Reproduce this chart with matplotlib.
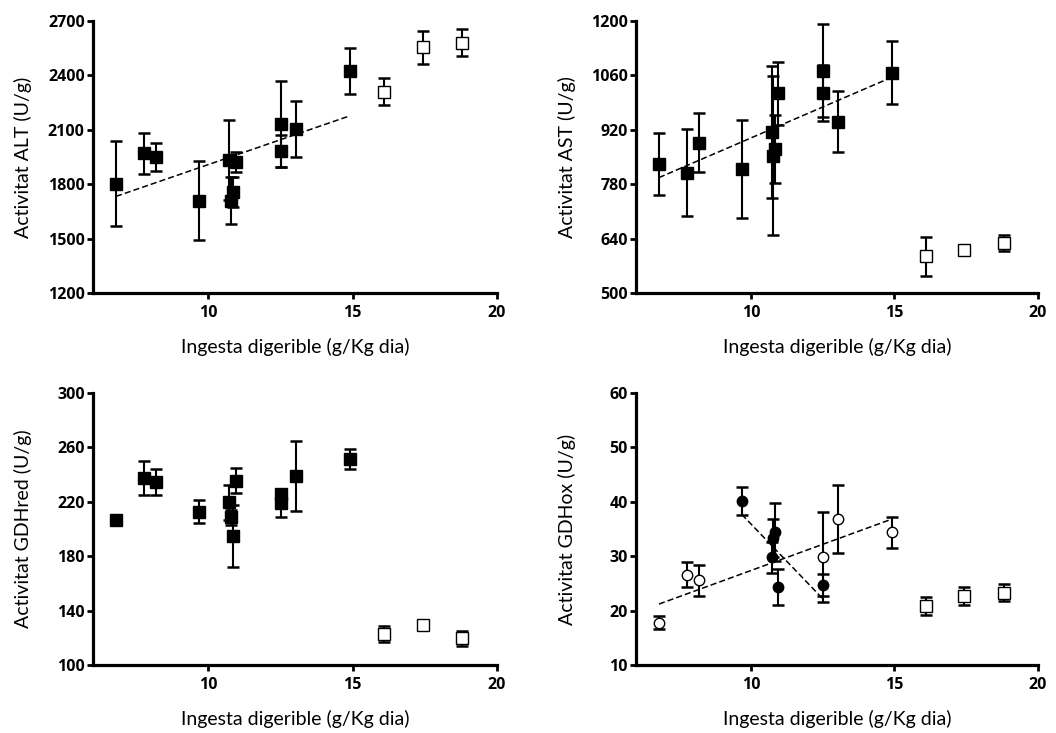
import matplotlib
matplotlib.use("Agg")
import matplotlib.pyplot as plt

plt.rcParams['font.family'] = ['Open Sans', 'DejaVu Sans']

# Digestible intake (g/Kg dia) for the twelve experimental diets and three controls
x_diet = [6.8, 7.77, 8.2, 9.68, 10.72, 10.78, 10.85, 10.95, 12.5, 12.5, 13.04, 14.9]
x_ctrl = [16.1, 17.42, 18.8]

# ALT activity (U/g)
alt_mean = [1802, 1971, 1949, 1709, 1933, 1710, 1757, 1922, 2133, 1984, 2105, 2425]
alt_err = [234, 112, 78, 218, 221, 128, 84, 57, 237, 90, 155, 126]
alt_ctrl = [2311, 2555, 2581]
alt_ctrl_err = [72, 92, 76]
alt_fit_x = [6.8, 14.9]
alt_fit_y = [1733, 2177]

# AST activity (U/g)
ast_mean = [832, 810, 887, 819, 915, 853, 871, 1014, 1072, 1014, 941, 1067]
ast_err = [79, 112, 76, 127, 170, 205, 88, 81, 120, 72, 79, 81]
ast_ctrl = [594, 610, 629]
ast_ctrl_err = [49, 4, 21]
ast_fit_x = [6.8, 14.9]
ast_fit_y = [797, 1055]

# GDH reductive activity (U/g)
red_mean = [206.5, 237.6, 234.6, 212.6, 219.6, 208.6, 195.1, 235.5, 226.0, 219.0, 238.8, 251.5]
red_err = [1.5, 12.4, 9.7, 8.4, 12.8, 5.5, 22.8, 9.0, 2.0, 10.0, 25.7, 7.6]
red_ctrl = [122.8, 129.4, 119.6]
red_ctrl_err = [5.8, 1.0, 5.5]

# GDH oxidative activity (U/g); filled marks one group of diets, open the other
ox_mean = [17.8, 26.6, 25.6, 40.2, 29.8, 33.3, 34.5, 24.3, 29.9, 24.7, 36.8, 34.4]
ox_err = [1.2, 2.3, 2.85, 2.6, 2.9, 3.5, 5.3, 3.3, 8.3, 2.0, 6.2, 2.85]
ox_filled = [False, False, False, True, True, True, True, True, False, True, False, False]
ox_ctrl = [20.8, 22.7, 23.3]
ox_ctrl_err = [1.7, 1.6, 1.5]
ox_open_fit_x = [6.8, 14.9]
ox_open_fit_y = [21.2, 36.8]
ox_filled_fit_x = [9.68, 12.5]
ox_filled_fit_y = [37.7, 22.2]

x_label = "Ingesta digerible (g/Kg dia)"

fig = plt.figure(figsize=(10.56, 7.33), dpi=100)

W, H = 1056.0, 733.0
def axes_px(left, right, top, bottom):
    return fig.add_axes([left / W, 1 - bottom / H, (right - left) / W, (bottom - top) / H])

ax1 = axes_px(93, 497, 21, 293)
ax2 = axes_px(636, 1038, 21, 293)
ax3 = axes_px(93, 497, 393, 665)
ax4 = axes_px(636, 1038, 393, 665)

ebkw = dict(ecolor='black', elinewidth=1.5, capsize=4.5, capthick=1.8, linestyle='none', zorder=2)
fill_sq = dict(marker='s', markersize=8, markerfacecolor='black', markeredgecolor='black')
open_sq = dict(marker='s', markersize=8, markerfacecolor='white', markeredgecolor='black', markeredgewidth=1.0)
fill_ci = dict(marker='o', markersize=7.5, markerfacecolor='black', markeredgecolor='black')
open_ci = dict(marker='o', markersize=7.5, markerfacecolor='white', markeredgecolor='black', markeredgewidth=1.0)
fit_kw = dict(color='black', linewidth=1.1, linestyle=(0, (4, 2)), zorder=4)
label_font = ['Lato', 'DejaVu Sans']


def style(ax, ylim, yticks, ylabel):
    ax.set_xlim(6, 20)
    ax.set_ylim(*ylim)
    ax.set_xticks([10, 15, 20])
    ax.set_yticks(yticks)
    for s in ('top', 'right'):
        ax.spines[s].set_visible(False)
    for s in ('left', 'bottom'):
        ax.spines[s].set_linewidth(2.3)
    ax.tick_params(axis='both', direction='out', length=4.5, width=2.0,
                   labelsize=11.5)
    ax.tick_params(axis='x', pad=4)
    ax.tick_params(axis='y', pad=1.5)
    for lab in ax.get_xticklabels() + ax.get_yticklabels():
        lab.set_fontweight('bold')
    ax.set_ylabel(ylabel, fontsize=14, family=label_font)
    ax.set_xlabel(x_label, fontsize=14, family=label_font)
    ax.yaxis.set_label_coords(-0.15, 0.5)
    ax.xaxis.set_label_coords(0.5, -0.165)
    for sp in ax.spines.values():
        sp.set_zorder(6)


def draw_group(ax, xs, ys, errs, mk):
    ax.errorbar(xs, ys, yerr=errs, fmt='none', **ebkw)
    ax.plot(xs, ys, linestyle='none', zorder=3, clip_on=False, **mk)


# ALT
draw_group(ax1, x_diet, alt_mean, alt_err, fill_sq)
draw_group(ax1, x_ctrl, alt_ctrl, alt_ctrl_err, open_sq)
ax1.plot(alt_fit_x, alt_fit_y, **fit_kw)
style(ax1, (1200, 2700), [1200, 1500, 1800, 2100, 2400, 2700], "Activitat ALT (U/g)")

# AST
draw_group(ax2, x_diet, ast_mean, ast_err, fill_sq)
draw_group(ax2, x_ctrl, ast_ctrl, ast_ctrl_err, open_sq)
ax2.plot(ast_fit_x, ast_fit_y, **fit_kw)
style(ax2, (500, 1200), [500, 640, 780, 920, 1060, 1200], "Activitat AST (U/g)")

# GDHred
draw_group(ax3, x_diet, red_mean, red_err, fill_sq)
draw_group(ax3, x_ctrl, red_ctrl, red_ctrl_err, open_sq)
style(ax3, (100, 300), [100, 140, 180, 220, 260, 300], "Activitat GDHred (U/g)")

# GDHox
xf = [x for x, f in zip(x_diet, ox_filled) if f]
yf = [y for y, f in zip(ox_mean, ox_filled) if f]
ef = [e for e, f in zip(ox_err, ox_filled) if f]
xo = [x for x, f in zip(x_diet, ox_filled) if not f]
yo = [y for y, f in zip(ox_mean, ox_filled) if not f]
eo = [e for e, f in zip(ox_err, ox_filled) if not f]
draw_group(ax4, xo, yo, eo, open_ci)
draw_group(ax4, xf, yf, ef, fill_ci)
draw_group(ax4, x_ctrl, ox_ctrl, ox_ctrl_err, open_sq)
ax4.plot(ox_open_fit_x, ox_open_fit_y, **fit_kw)
ax4.plot(ox_filled_fit_x, ox_filled_fit_y, **fit_kw)
style(ax4, (10, 60), [10, 20, 30, 40, 50, 60], "Activitat GDHox (U/g)")

fig.savefig("out.png", dpi=100)
